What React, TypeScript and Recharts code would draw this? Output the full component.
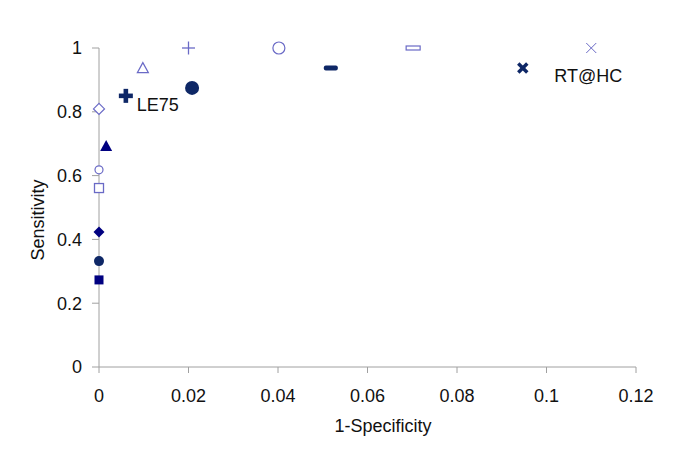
import { ScatterChart, Scatter, XAxis, YAxis, Label } from 'recharts';

// 1-Specificity / Sensitivity for each test point
const FPR = [0, 0, 0, 0, 0, 0.0016, 0, 0.006, 0.0208, 0.0098, 0.02, 0.0402, 0.0518, 0.0702, 0.0947, 0.11];
const SENS = [0.273, 0.332, 0.423, 0.561, 0.618, 0.693, 0.809, 0.85, 0.875, 0.937, 1, 1, 0.937, 1, 0.937, 1];
const LABELS = ['', '', '', '', '', '', '', 'LE75', '', '', '', '', '', '', '', 'RT@HC'];

const X_TICKS = [0, 0.02, 0.04, 0.06, 0.08, 0.1, 0.12];
const Y_TICKS = [0, 0.2, 0.4, 0.6, 0.8, 1];

const NAVY = '#000080';
const DARK = '#0e2766';
const LIGHT = '#6a6ac6';
const FONT = '"Liberation Sans", Arial, sans-serif';

type M = (cx: number, cy: number) => JSX.Element;

// one marker per point, same order as the arrays above
const MARKERS: M[] = [
  (cx, cy) => <rect x={cx - 4.5} y={cy - 4.5} width={9} height={9} fill={NAVY} />,
  (cx, cy) => <circle cx={cx} cy={cy} r={5} fill={DARK} />,
  (cx, cy) => <polygon points={`${cx},${cy - 5.5} ${cx + 5.5},${cy} ${cx},${cy + 5.5} ${cx - 5.5},${cy}`} fill={NAVY} />,
  (cx, cy) => <rect x={cx - 4.5} y={cy - 4.5} width={9} height={9} fill="#fff" stroke={LIGHT} strokeWidth={1.3} />,
  (cx, cy) => <circle cx={cx} cy={cy} r={4} fill="#fff" stroke={LIGHT} strokeWidth={1.2} />,
  (cx, cy) => <polygon points={`${cx},${cy - 6} ${cx + 6},${cy + 5} ${cx - 6},${cy + 5}`} fill={NAVY} />,
  (cx, cy) => <polygon points={`${cx},${cy - 5.5} ${cx + 5.5},${cy} ${cx},${cy + 5.5} ${cx - 5.5},${cy}`} fill="#fff" stroke={LIGHT} strokeWidth={1.2} />,
  (cx, cy) => (
    <g fill={DARK}>
      <rect x={cx - 7} y={cy - 2.3} width={14} height={4.6} />
      <rect x={cx - 2.3} y={cy - 7} width={4.6} height={14} />
    </g>
  ),
  (cx, cy) => <circle cx={cx} cy={cy} r={7} fill={DARK} />,
  (cx, cy) => <polygon points={`${cx},${cy - 5.5} ${cx + 5.5},${cy + 4.5} ${cx - 5.5},${cy + 4.5}`} fill="#fff" stroke={LIGHT} strokeWidth={1.2} />,
  (cx, cy) => (
    <g stroke={LIGHT} strokeWidth={1.3}>
      <line x1={cx - 6.5} y1={cy} x2={cx + 6.5} y2={cy} />
      <line x1={cx} y1={cy - 6.5} x2={cx} y2={cy + 6.5} />
    </g>
  ),
  (cx, cy) => <circle cx={cx} cy={cy} r={6} fill="#fff" stroke={LIGHT} strokeWidth={1.2} />,
  (cx, cy) => <rect x={cx - 7} y={cy - 2.5} width={14} height={5} rx={2} fill={DARK} />,
  (cx, cy) => <rect x={cx - 7} y={cy - 2} width={14} height={4} fill="#fff" stroke={LIGHT} strokeWidth={1.2} />,
  (cx, cy) => (
    <g stroke={DARK} strokeWidth={3.5}>
      <line x1={cx - 4.5} y1={cy - 4.5} x2={cx + 4.5} y2={cy + 4.5} />
      <line x1={cx - 4.5} y1={cy + 4.5} x2={cx + 4.5} y2={cy - 4.5} />
    </g>
  ),
  (cx, cy) => (
    <g stroke={LIGHT} strokeWidth={1}>
      <line x1={cx - 5} y1={cy - 5} x2={cx + 5} y2={cy + 5} />
      <line x1={cx - 5} y1={cy + 5} x2={cx + 5} y2={cy - 5} />
    </g>
  ),
];

const points = FPR.map((x, i) => ({ x, y: SENS[i], label: LABELS[i], k: i }));

// eslint-disable-next-line @typescript-eslint/no-explicit-any
function Marker(props: any) {
  const { cx, cy, payload } = props;
  const k = payload.k;
  let text = null;
  if (payload.label === 'LE75') {
    text = <text x={cx + 11} y={cy + 15} fontSize={18} fontFamily={FONT} fill="#111">{payload.label}</text>;
  } else if (payload.label) {
    text = <text x={cx - 37} y={cy + 34} fontSize={18} fontFamily={FONT} fill="#111">{payload.label}</text>;
  }
  return (
    <g>
      {MARKERS[k](cx, cy)}
      {text}
    </g>
  );
}

const tick = { fill: '#111', fontSize: 18, fontFamily: FONT };

export default function App() {
  return (
    <div style={{ position: 'absolute', left: 0, top: 0, background: '#fff' }}>
      <ScatterChart width={685} height={467} margin={{ top: 48, right: 49, bottom: 40, left: 39 }}>
        <XAxis
          type="number"
          dataKey="x"
          domain={[0, 0.12]}
          ticks={X_TICKS}
          height={60}
          stroke="#a0a0a0"
          tickSize={6}
          tickMargin={16}
          tick={tick}
        >
          <Label
            content={() => (
              <text x={383} y={432} textAnchor="middle" fontSize={18} fontFamily={FONT} fill="#111">
                1-Specificity
              </text>
            )}
          />
        </XAxis>
        <YAxis
          type="number"
          dataKey="y"
          domain={[0, 1]}
          ticks={Y_TICKS}
          width={60}
          stroke="#a0a0a0"
          tickSize={7}
          tickMargin={10}
          tick={tick}
        >
          <Label
            content={() => (
              <text
                x={38}
                y={220}
                transform="rotate(-90 38 220)"
                textAnchor="middle"
                dominantBaseline="central"
                fontSize={18}
                fontFamily={FONT}
                fill="#111"
              >
                Sensitivity
              </text>
            )}
          />
        </YAxis>
        <Scatter data={points} shape={<Marker />} isAnimationActive={false} />
      </ScatterChart>
    </div>
  );
}
